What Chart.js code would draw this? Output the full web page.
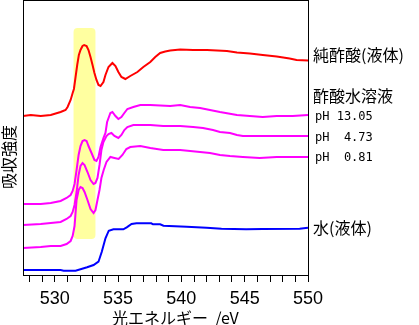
<!DOCTYPE html>
<html>
<head>
<meta charset="utf-8">
<script src="https://cdn.jsdelivr.net/npm/chart.js@4/dist/chart.umd.min.js"></script>
<style>
	body { margin: 0; background: #fff; }
	#wrap { width: 419px; height: 325px; }
</style>
</head>
<body>
<div id="wrap"><canvas id="myChart" width="419" height="325"></canvas></div>
<script>
// spectra: [photon energy eV, absorption (arb.)]
const pureAcid = [
	[527.5, 159], [528.11, 160], [528.9, 159], [529.69, 160], [530.47, 163], [530.86, 165],
	[531.02, 168], [531.26, 175], [531.42, 182], [531.52, 186], [531.65, 198], [531.78, 210],
	[531.91, 220], [532.04, 225], [532.2, 229], [532.33, 230], [532.52, 229], [532.67, 225],
	[532.83, 218], [532.99, 210], [533.14, 202], [533.3, 195], [533.46, 190], [533.62, 189],
	[533.85, 193], [534.01, 200], [534.25, 208], [534.48, 211], [534.56, 212], [534.8, 209],
	[535.03, 203], [535.27, 198], [535.58, 196], [535.97, 199], [536.53, 203], [537.0, 208],
	[537.55, 213], [537.94, 218], [538.33, 222], [538.73, 223.5], [539.12, 224.5], [539.91, 225.5],
	[540.93, 225], [542.03, 225], [543.6, 224], [544.39, 222.5], [545.41, 221.5], [546.43, 220],
	[547.53, 218.5], [548.55, 216.5], [549.1, 215], [550, 214.5],
];
const pH1305 = [
	[527.5, 71], [528.9, 71], [529.69, 72], [530.47, 74], [530.94, 77], [531.26, 80],
	[531.42, 84], [531.57, 91], [531.73, 105], [531.89, 120], [532.04, 129], [532.2, 134],
	[532.36, 135], [532.52, 134], [532.67, 129], [532.91, 122], [533.14, 115], [533.3, 114],
	[533.46, 118], [533.62, 128], [533.85, 137], [534.01, 142], [534.14, 153], [534.4, 162],
	[534.56, 163], [534.8, 159], [535.03, 156], [535.27, 158], [535.5, 162], [535.74, 166],
	[536.21, 168], [536.76, 170], [537.55, 170], [539.12, 169], [539.91, 170], [540.69, 168],
	[541.48, 167], [542.26, 165], [543.05, 163], [544.39, 160], [545.41, 159], [546.43, 158],
	[547.53, 159], [548.79, 159], [550, 160],
];
const pH473 = [
	[527.5, 50], [528.9, 51], [529.69, 52], [530.47, 53], [530.94, 56], [531.26, 59],
	[531.42, 63], [531.57, 70], [531.73, 83], [531.89, 100], [532.04, 109], [532.2, 112],
	[532.36, 110], [532.59, 103], [532.83, 95], [533.07, 91], [533.22, 92], [533.38, 97],
	[533.54, 110], [533.69, 125], [533.85, 133], [534.09, 139], [534.25, 141], [534.48, 142],
	[534.72, 139], [535.03, 137], [535.27, 140], [535.5, 145], [535.74, 148], [536.21, 150],
	[536.76, 150], [537.55, 150], [538.57, 149], [539.91, 149], [540.93, 148], [541.71, 147],
	[542.5, 145], [543.05, 143], [543.84, 142], [544.39, 140], [544.86, 139], [545.41, 139],
	[546.98, 139], [548.55, 139], [550, 139],
];
const pH081 = [
	[527.5, 27], [528.9, 28], [529.69, 29], [530.47, 29], [530.94, 31], [531.26, 34],
	[531.42, 39], [531.57, 49], [531.65, 62], [531.73, 75], [531.89, 85], [532.04, 88],
	[532.2, 87], [532.36, 83], [532.59, 75], [532.83, 66], [533.07, 62], [533.22, 65],
	[533.38, 75], [533.54, 85], [533.69, 97], [533.87, 105], [534.09, 113], [534.4, 118],
	[534.72, 117], [535.05, 116], [535.35, 120], [535.66, 126], [535.97, 128], [536.76, 129],
	[537.55, 127], [538.57, 125], [539.91, 125], [541.48, 123], [542.26, 122], [543.05, 120],
	[543.84, 119], [544.86, 118], [546.19, 117], [547.53, 118], [550, 118],
];
const water = [
	[527.5, 5], [530.47, 5], [530.71, 4.3], [531.65, 4.3], [532.04, 5.7], [532.56, 7.7],
	[533.07, 10], [533.46, 13.3], [533.72, 23.3], [534.01, 36.7], [534.27, 44.3], [534.64, 45.7],
	[535.42, 45.7], [535.69, 47.7], [536.07, 51], [536.46, 51.7], [537.63, 51.7], [537.76, 50.7],
	[538.33, 50.7], [538.59, 49.3], [540.42, 48.3], [541.99, 47.3], [543.17, 46.3], [545.12, 45.7],
	[546.43, 46], [549.34, 46.3], [550, 47.3],
];

const seriesNames = ["純酢酸(液体)", "pH 13.05", "pH  4.73", "pH  0.81", "水(液体)"];
const seriesColors = ["#ff0000", "#ff00ff", "#ff00ff", "#ff00ff", "#0000ff"];
const groupLabel = "酢酸水溶液";
const xTitle = "光エネルギー  /eV";
const yTitle = "吸収強度";
const bandEnergy = [531.49, 533.22]; // highlighted pre-edge region
const bandLevel = [36, 247];

const jp = '"Noto Sans CJK JP", sans-serif';

const toPoints = (arr) => arr.map((p) => ({ x: p[0], y: p[1] }));
const allSeries = [pureAcid, pH1305, pH473, pH081, water];

// yellow box behind the spectra
const bandPlugin = {
	id: "band",
	beforeDatasetsDraw(chart) {
		const { ctx, scales } = chart;
		const x0 = scales.x.getPixelForValue(bandEnergy[0]);
		const x1 = scales.x.getPixelForValue(bandEnergy[1]);
		const y0 = scales.y.getPixelForValue(bandLevel[1]);
		const y1 = scales.y.getPixelForValue(bandLevel[0]);
		ctx.save();
		ctx.fillStyle = "#ffffa0";
		ctx.beginPath();
		ctx.roundRect(x0, y0, x1 - x0, y1 - y0, 4);
		ctx.fill();
		ctx.restore();
	},
};

// frame, axis titles and the labels at the right end of each curve
const textPlugin = {
	id: "texts",
	afterDraw(chart) {
		const { ctx, chartArea: a } = chart;
		ctx.save();
		ctx.strokeStyle = "#000";
		ctx.lineWidth = 1;
		ctx.strokeRect(a.left + 0.5, a.top + 0.5, a.right - a.left, a.bottom - a.top);

		ctx.fillStyle = "#000";
		ctx.textBaseline = "middle";
		ctx.font = "16px " + jp;
		ctx.textAlign = "left";
		ctx.fillText(xTitle, 112, 318);

		ctx.save();
		ctx.translate(9, 157);
		ctx.rotate(-Math.PI / 2);
		ctx.textAlign = "center";
		ctx.fillText(yTitle, 0, 0);
		ctx.restore();

		const lx = a.right + 5;
		ctx.fillText(seriesNames[0], lx, 55);
		ctx.fillText(groupLabel, lx, 96);
		ctx.fillText(seriesNames[4], lx, 228);
		ctx.font = '12px "DejaVu Sans Mono", monospace';
		ctx.fillText(seriesNames[1], lx + 2, 117);
		ctx.fillText(seriesNames[2], lx + 2, 137.5);
		ctx.fillText(seriesNames[3], lx + 2, 158);
		ctx.restore();
	},
};

const ctx = document.getElementById("myChart");

const myChart = new Chart(ctx, {
	type: "line",
	data: {
		datasets: allSeries.map((s, i) => ({
			label: seriesNames[i],
			data: toPoints(s),
			borderColor: seriesColors[i],
			borderWidth: 2,
			pointRadius: 0,
			tension: 0,
			fill: false,
		})),
	},
	options: {
		responsive: false,
		animation: false,
		devicePixelRatio: 1,
		layout: { padding: { left: 23, right: 111, top: 0, bottom: 0 } },
		plugins: {
			legend: { display: false },
			tooltip: { enabled: false },
		},
		scales: {
			x: {
				type: "linear",
				min: 527.5,
				max: 550,
				border: { display: false },
				grid: {
					drawOnChartArea: false,
					drawTicks: true,
					tickLength: 7,
					tickColor: "#000",
					lineWidth: 1,
				},
				ticks: {
					stepSize: 1,
					includeBounds: false,
					autoSkip: false,
					maxRotation: 0,
					padding: 6,
					color: "#000",
					font: { family: '"Liberation Sans Narrow", "Liberation Sans", sans-serif', size: 18 },
					callback: (v) => (v % 5 === 0 ? String(v) : ""),
				},
				afterFit: (scale) => {
					scale.height = 50;
				},
			},
			y: {
				display: false,
				min: 0,
				max: 275,
			},
		},
	},
	plugins: [bandPlugin, textPlugin],
});
</script>
</body>
</html>
